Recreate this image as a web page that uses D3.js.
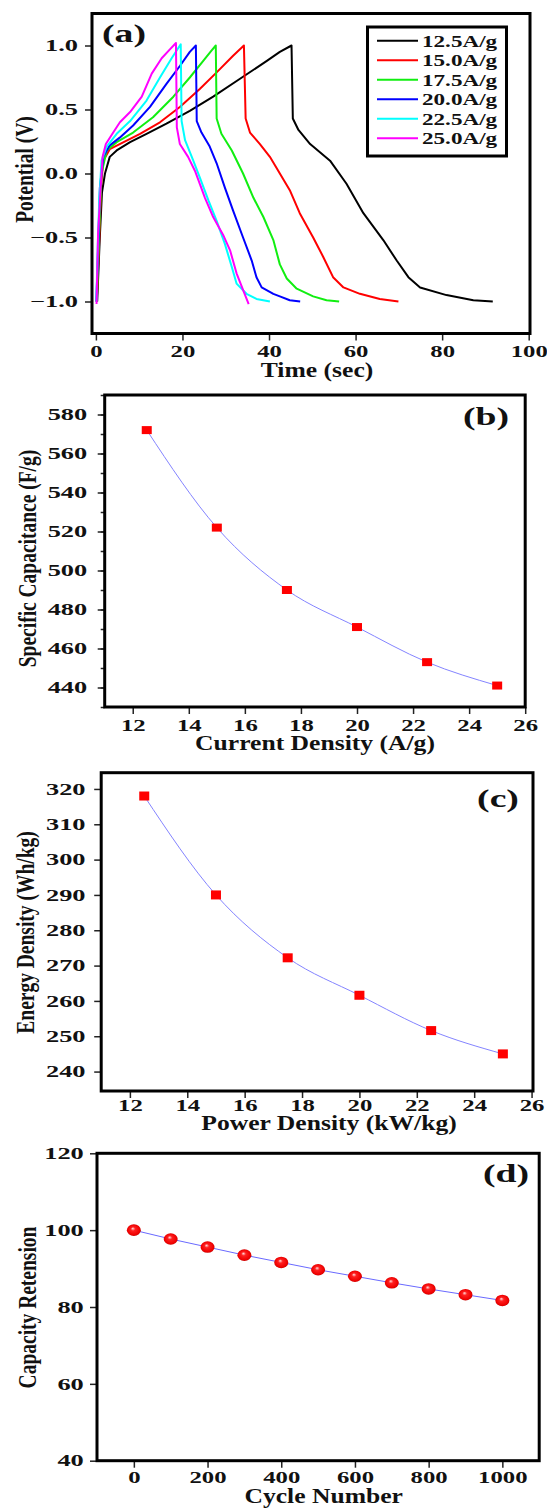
<!DOCTYPE html>
<html>
<head>
<meta charset="utf-8">
<script src="https://cdn.jsdelivr.net/npm/d3@7"></script>
<style>
  body { margin: 0; background: #fff; }
  svg { display: block; }
  text { font-family: "Liberation Serif", "Times New Roman", serif; font-weight: bold; fill: #111; }
</style>
</head>
<body>
<div id="chart"></div>
<script>
// ---- data ----
// (a) galvanostatic charge / discharge, [time (s), potential (V)]
var gcd125 = [[0.3,-1.0],[0.9,-0.5],[1.4,-0.15],[2.1,0.0],[3.2,0.13],[4.8,0.18],[7.9,0.245],[11.7,0.31],[16.3,0.39],[21.7,0.49],[27.1,0.60],[33.3,0.74],[39.5,0.88],[42.5,0.95],[45.2,1.0],[45.5,0.43],[46.8,0.34],[49.5,0.23],[54.1,0.10],[57.9,-0.08],[61.8,-0.31],[66.4,-0.52],[69.5,-0.68],[72.2,-0.81],[74.9,-0.89],[81.0,-0.95],[87.2,-0.99],[91.7,-1.0]];
var gcd150 = [[0.2,-1.0],[0.8,-0.5],[1.2,-0.1],[1.7,0.10],[3.2,0.19],[5.5,0.23],[10.2,0.31],[14.8,0.40],[19.4,0.52],[24.0,0.66],[27.9,0.79],[31.7,0.92],[34.2,1.0],[34.6,0.43],[35.6,0.32],[37.9,0.23],[40.2,0.13],[42.5,0.0],[44.8,-0.13],[47.1,-0.31],[50.2,-0.50],[52.5,-0.65],[54.8,-0.81],[57.2,-0.89],[61.0,-0.94],[65.6,-0.98],[69.9,-1.0]];
var gcd175 = [[0.2,-1.0],[0.7,-0.5],[1.3,0.0],[2.5,0.18],[4.8,0.245],[8.6,0.32],[13.2,0.44],[17.9,0.60],[21.7,0.75],[24.8,0.88],[26.7,0.96],[27.7,1.0],[27.9,0.43],[29.0,0.31],[31.4,0.18],[34.0,0.0],[36.4,-0.19],[38.7,-0.34],[41.0,-0.52],[42.5,-0.71],[44.1,-0.82],[46.4,-0.90],[50.2,-0.96],[53.3,-0.99],[56.2,-1.0]];
var gcd200 = [[0.1,-1.0],[0.6,-0.5],[0.92,-0.11],[1.7,0.13],[3.2,0.22],[5.5,0.28],[8.6,0.375],[12.5,0.52],[16.3,0.70],[19.4,0.84],[21.7,0.95],[23.1,1.0],[23.3,0.41],[24.4,0.32],[26.3,0.21],[27.9,0.08],[29.8,-0.11],[31.7,-0.29],[34.0,-0.50],[36.0,-0.68],[37.1,-0.81],[38.3,-0.89],[41.0,-0.94],[42.5,-0.96],[44.8,-0.99],[47.2,-1.0]];
var gcd225 = [[0.1,-1.0],[0.4,-0.6],[0.77,-0.21],[1.3,0.10],[2.5,0.21],[4.8,0.31],[7.9,0.41],[11.7,0.57],[14.8,0.75],[17.5,0.90],[19.6,1.01],[19.8,0.41],[20.6,0.26],[22.5,0.10],[24.0,-0.03],[26.0,-0.21],[27.9,-0.37],[29.8,-0.55],[31.4,-0.73],[32.5,-0.86],[34.8,-0.94],[37.1,-0.98],[40.2,-1.0]];
var gcd250 = [[0.15,-1.02],[0.5,-0.47],[1.1,-0.11],[1.55,0.13],[2.3,0.23],[4.0,0.32],[5.55,0.40],[7.9,0.48],[10.6,0.60],[12.9,0.78],[15.2,0.90],[17.1,0.97],[18.5,1.02],[18.7,0.36],[19.4,0.23],[21.3,0.13],[22.9,0.02],[25.2,-0.19],[27.1,-0.34],[29.4,-0.48],[31.0,-0.60],[32.5,-0.78],[34.0,-0.91],[35.3,-1.02]];
var gcdLabels = ["12.5A/g", "15.0A/g", "17.5A/g", "20.0A/g", "22.5A/g", "25.0A/g"];
var timeTicks = [0, 20, 40, 60, 80, 100];
var potentialTicks = [-1.0, -0.5, 0.0, 0.5, 1.0];

// (b) specific capacitance vs current density
var currentDensity = [12.5, 15, 17.5, 20, 22.5, 25];
var specCapacitance = [572, 522, 490, 471, 453, 441];
var capTicks = [440, 460, 480, 500, 520, 540, 560, 580];

// (c) energy density vs power density
var powerDensity = [12.5, 15, 17.5, 20, 22.5, 25];
var energyDensity = [318, 290, 272.2, 261.6, 251.6, 245];
var energyTicks = [240, 250, 260, 270, 280, 290, 300, 310, 320];
var densityTicks = [12, 14, 16, 18, 20, 22, 24, 26];

// (d) cycling stability
var cycleNumber = [0, 100, 200, 300, 400, 500, 600, 700, 800, 900, 1000];
var retention = [100, 97.7, 95.6, 93.5, 91.6, 89.7, 88.0, 86.3, 84.7, 83.2, 81.7];
var retentionTicks = [40, 60, 80, 100, 120];
var cycleTicks = [0, 200, 400, 600, 800, 1000];

var gcdColors = ["#000000", "#ff0000", "#11ee11", "#0000ff", "#00ffff", "#ff00ff"];

// ---- drawing ----
var W = 547, H = 1509;
var svg = d3.select("#chart").append("svg")
    .attr("width", W)
    .attr("height", H);

var XTICK_SX = 1.5, YTICK_SX = 1.6;

// text that is squeezed wider, like in the picture
function label(x, y, txt, size, sx, anchor, rot) {
  return svg.append("text")
    .attr("transform", "translate(" + x + "," + y + ") scale(" + sx + ",1)" + (rot ? " rotate(" + rot + ")" : ""))
    .attr("text-anchor", anchor || "middle")
    .attr("dy", rot ? "0.35em" : null)
    .style("font-size", size + "px")
    .text(txt);
}

function panel(box, xDom, yDom, o) {
  var x = d3.scaleLinear().domain(xDom).range([box.x0, box.x1]);
  var y = d3.scaleLinear().domain(yDom).range([box.y1, box.y0]);

  var gx = svg.append("g")
    .attr("transform", "translate(0," + box.y1 + ")")
    .call(d3.axisBottom(x).tickValues(o.xTicks).tickSize(7).tickPadding(o.xPad || 5).tickFormat(o.xFmt || d3.format("d")));
  gx.select(".domain").remove();
  gx.selectAll(".tick text")
    .attr("transform", "scale(" + XTICK_SX + ",1)")
    .style("font-size", "16.5px");

  var gy = svg.append("g")
    .attr("transform", "translate(" + box.x0 + ",0)")
    .call(d3.axisLeft(y).tickValues(o.yTicks).tickSize(7).tickFormat(o.yFmt || d3.format("d")));
  gy.select(".domain").remove();
  gy.selectAll(".tick text")
    .attr("x", -o.gap / YTICK_SX)
    .attr("transform", "scale(" + YTICK_SX + ",1)")
    .style("font-size", "16.5px");

  if (o.yMinor) {
    var gm = svg.append("g")
      .attr("transform", "translate(" + box.x0 + ",0)")
      .call(d3.axisLeft(y).tickValues(o.yMinor).tickSize(4).tickFormat(""));
    gm.select(".domain").remove();
  }

  svg.selectAll(".tick line").attr("stroke", "#222").attr("stroke-width", 1.5);

  return {x: x, y: y, box: box};
}

function frame(p) {
  svg.append("rect")
    .attr("x", p.box.x0)
    .attr("y", p.box.y0)
    .attr("width", p.box.x1 - p.box.x0)
    .attr("height", p.box.y1 - p.box.y0)
    .attr("fill", "none")
    .attr("stroke", "#000")
    .attr("stroke-width", 3);
}

// ---------- (a) ----------
var pa = panel({x0: 92, x1: 530, y0: 13.5, y1: 333.5}, [-0.9, 100.3], [-1.25, 1.25],
  {xTicks: timeTicks, yTicks: potentialTicks, yFmt: d3.format(".1f"), gap: 14});

var gcdLine = d3.line()
  .x(function(d) { return pa.x(d[0]); })
  .y(function(d) { return pa.y(d[1]); });

[gcd125, gcd150, gcd175, gcd200, gcd225, gcd250].forEach(function(s, i) {
  svg.append("path")
    .datum(s)
    .attr("d", gcdLine)
    .attr("fill", "none")
    .attr("stroke", gcdColors[i])
    .attr("stroke-width", 2)
    .attr("stroke-linejoin", "round");
});

// legend
svg.append("rect")
  .attr("x", 367.5).attr("y", 27)
  .attr("width", 139).attr("height", 129)
  .attr("fill", "#fff").attr("stroke", "#000").attr("stroke-width", 3);
gcdLabels.forEach(function(t, i) {
  var ly = 40.7 + i * 19.5;
  svg.append("line")
    .attr("x1", 377).attr("x2", 418)
    .attr("y1", ly).attr("y2", ly)
    .attr("stroke", gcdColors[i]).attr("stroke-width", 2);
  label(422, ly + 5.8, t, 17, 1.36, "start");
});

frame(pa);
label(124, 42, "(a)", 26, 1.45);
label(317, 377, "Time (sec)", 20, 1.28);
label(24.5, 169.5, "Potential (V)", 19.5, 1.28, "middle", -90);

// ---------- (b) ----------
var capMinor = d3.range(430, 591, 10);
var pb = panel({x0: 104.7, x1: 525.2, y0: 395, y1: 707}, [11, 26], [430, 590],
  {xTicks: densityTicks, yTicks: capTicks, yMinor: capMinor, gap: 17.5});

var lineB = d3.line()
  .x(function(d, i) { return pb.x(currentDensity[i]); })
  .y(function(d) { return pb.y(d); })
  .curve(d3.curveMonotoneX);
svg.append("path")
  .datum(specCapacitance)
  .attr("d", lineB)
  .attr("fill", "none")
  .attr("stroke", "#8484ff")
  .attr("stroke-width", 1);
svg.append("g").selectAll("rect")
  .data(specCapacitance)
  .enter()
  .append("rect")
    .attr("x", function(d, i) { return pb.x(currentDensity[i]) - 5; })
    .attr("y", function(d) { return pb.y(d) - 4; })
    .attr("width", 10)
    .attr("height", 8)
    .attr("fill", "#ff0000");
frame(pb);
label(486, 425.3, "(b)", 26, 1.45);
label(315, 750, "Current Density (A/g)", 20, 1.28);
label(27, 558.5, "Specific Capacitance (F/g)", 19.5, 1.28, "middle", -90);

// ---------- (c) ----------
var pc = panel({x0: 101.2, x1: 533, y0: 772.7, y1: 1091}, [11, 26.05], [234.5, 324.6],
  {xTicks: densityTicks, yTicks: energyTicks, gap: 15.7, xPad: 1.5});

var lineC = d3.line()
  .x(function(d, i) { return pc.x(powerDensity[i]); })
  .y(function(d) { return pc.y(d); })
  .curve(d3.curveMonotoneX);
svg.append("path")
  .datum(energyDensity)
  .attr("d", lineC)
  .attr("fill", "none")
  .attr("stroke", "#8484ff")
  .attr("stroke-width", 1);
svg.append("g").selectAll("rect")
  .data(energyDensity)
  .enter()
  .append("rect")
    .attr("x", function(d, i) { return pc.x(powerDensity[i]) - 5; })
    .attr("y", function(d) { return pc.y(d) - 4.5; })
    .attr("width", 10)
    .attr("height", 9)
    .attr("fill", "#ff0000");
frame(pc);
label(498, 807, "(c)", 26, 1.45);
label(329, 1130, "Power Density (kW/kg)", 20, 1.28);
label(25.3, 932.5, "Energy Density (Wh/kg)", 19.5, 1.28, "middle", -90);

// ---------- (d) ----------
var pd = panel({x0: 97, x1: 539.2, y0: 1153.3, y1: 1460.7}, [-100, 1100], [40, 120],
  {xTicks: cycleTicks, yTicks: retentionTicks, gap: 13.2, xPad: 4});

var grad = svg.append("defs").append("radialGradient")
  .attr("id", "ball")
  .attr("cx", "50%").attr("cy", "50%").attr("r", "55%")
  .attr("fx", "42%").attr("fy", "35%");
grad.append("stop").attr("offset", "0%").attr("stop-color", "#ffe0e0");
grad.append("stop").attr("offset", "30%").attr("stop-color", "#ff2020");
grad.append("stop").attr("offset", "80%").attr("stop-color", "#ee0000");
grad.append("stop").attr("offset", "100%").attr("stop-color", "#b00000");

var lineD = d3.line()
  .x(function(d, i) { return pd.x(cycleNumber[i]); })
  .y(function(d) { return pd.y(d); });
svg.append("path")
  .datum(retention)
  .attr("d", lineD)
  .attr("fill", "none")
  .attr("stroke", "#6a6aff")
  .attr("stroke-width", 1);
svg.append("g").selectAll("ellipse")
  .data(retention)
  .enter()
  .append("ellipse")
    .attr("cx", function(d, i) { return pd.x(cycleNumber[i]); })
    .attr("cy", function(d) { return pd.y(d); })
    .attr("rx", 7)
    .attr("ry", 5.8)
    .attr("fill", "url(#ball)");
frame(pd);
label(506, 1182, "(d)", 26, 1.45);
label(323.7, 1503, "Cycle Number", 20, 1.28);
label(27, 1307.5, "Capacity Retension", 19.5, 1.28, "middle", -90);
</script>
</body>
</html>
